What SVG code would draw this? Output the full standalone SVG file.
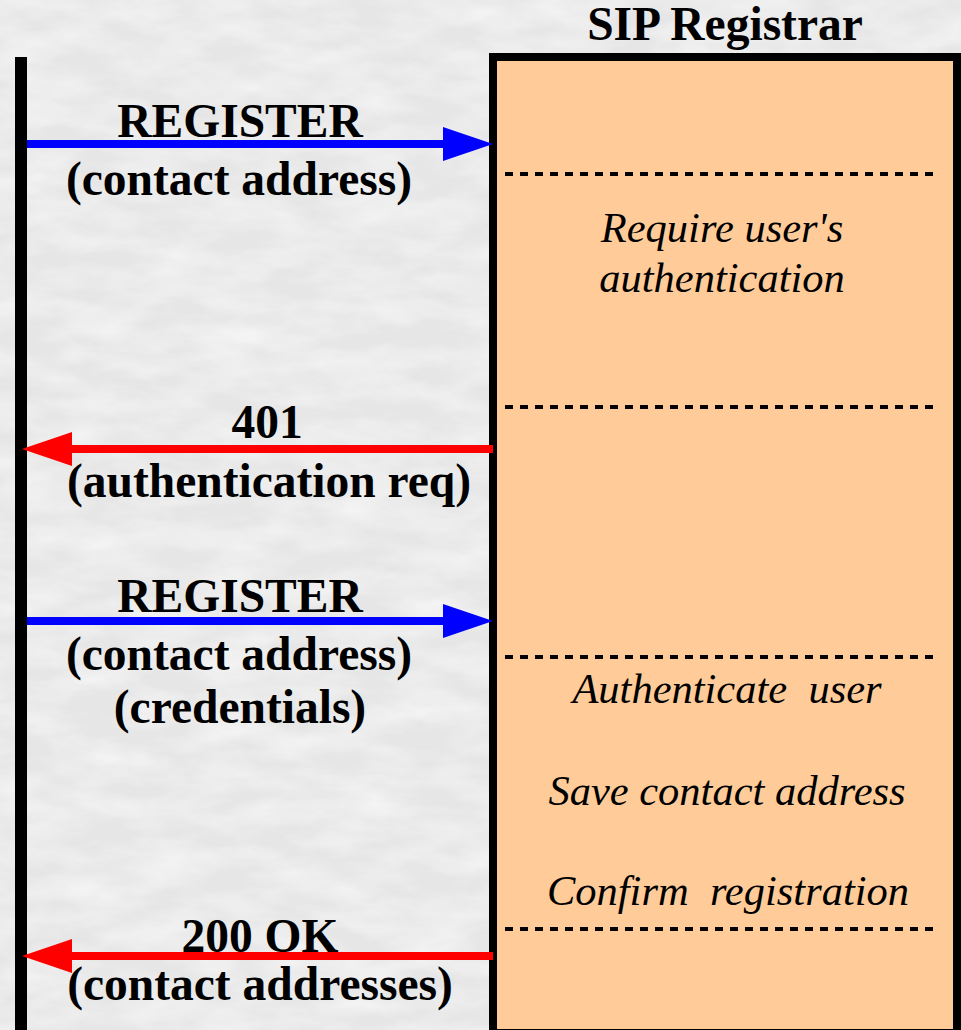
<svg xmlns="http://www.w3.org/2000/svg" width="961" height="1030" viewBox="0 0 961 1030">
  <defs>
    <filter id="marble" x="0" y="0" width="100%" height="100%">
      <feTurbulence type="fractalNoise" baseFrequency="0.015 0.04" numOctaves="4" seed="7" result="n"/>
      <feColorMatrix in="n" type="matrix" values="0 0 0 0 0.97  0 0 0 0 0.97  0 0 0 0 0.97  1.1 0 0 0 -0.35" result="c"/>
      <feComposite in="c" in2="SourceGraphic" operator="over"/>
    </filter>
    <marker id="headBlue" markerUnits="userSpaceOnUse" markerWidth="50" markerHeight="34" refX="0" refY="17" orient="auto">
      <path d="M0,0 L50,17 L0,34 Z" fill="#0000FF"/>
    </marker>
    <marker id="headRed" markerUnits="userSpaceOnUse" markerWidth="50" markerHeight="34" refX="0" refY="17" orient="auto">
      <path d="M0,0 L50,17 L0,34 Z" fill="#FF0000"/>
    </marker>
    <style>
      .bold { font-family: "Liberation Serif", "Times New Roman", serif; font-weight: bold; font-size: 47.5px; fill: #000; text-anchor: middle; }
      .ital { font-family: "Liberation Serif", "Times New Roman", serif; font-style: italic; font-size: 42.5px; fill: #000; text-anchor: middle; }
      .dash { stroke: #000; stroke-width: 4; stroke-dasharray: 8 7; fill: none; }
      .req { stroke: #0000FF; stroke-width: 8; fill: none; marker-end: url(#headBlue); }
      .resp { stroke: #FF0000; stroke-width: 8; fill: none; marker-end: url(#headRed); }
    </style>
  </defs>

  <!-- background -->
  <rect x="0" y="0" width="961" height="1030" fill="#e6e6e6"/>
  <rect x="0" y="0" width="961" height="1030" fill="#e6e6e6" filter="url(#marble)"/>

  <!-- client lifeline -->
  <g id="client">
    <rect x="15" y="57" width="12" height="973" fill="#000"/>
  </g>

  <!-- registrar -->
  <g id="registrar">
    <text class="bold" x="725" y="40">SIP Registrar</text>
    <rect x="493" y="57" width="464" height="976" fill="#FFCC99" stroke="#000" stroke-width="8"/>
    <line class="dash" x1="505" y1="174" x2="940" y2="174"/>
    <line class="dash" x1="505" y1="407" x2="940" y2="407"/>
    <line class="dash" x1="505" y1="657" x2="940" y2="657"/>
    <line class="dash" x1="505" y1="929" x2="940" y2="929"/>
    <text class="ital" x="722" y="242">Require user's</text>
    <text class="ital" x="722" y="292">authentication</text>
    <text class="ital" x="727" y="703" xml:space="preserve">Authenticate  user</text>
    <text class="ital" x="727" y="805">Save contact address</text>
    <text class="ital" x="728" y="905" xml:space="preserve">Confirm  registration</text>
  </g>

  <!-- connectors -->
  <g id="connectors">
    <line class="req" x1="27" y1="144" x2="443" y2="144"/>
    <line class="resp" x1="493" y1="449" x2="72" y2="449"/>
    <line class="req" x1="27" y1="621" x2="443" y2="621"/>
    <line class="resp" x1="493" y1="956" x2="72" y2="956"/>
  </g>

  <!-- message labels -->
  <g id="msg1">
    <text class="bold" x="240" y="137">REGISTER</text>
    <text class="bold" x="239" y="195">(contact address)</text>
  </g>
  <g id="msg2">
    <text class="bold" x="267" y="438">401</text>
    <text class="bold" x="269" y="497">(authentication req)</text>
  </g>
  <g id="msg3">
    <text class="bold" x="240" y="612">REGISTER</text>
    <text class="bold" x="239" y="670">(contact address)</text>
    <text class="bold" x="240" y="723">(credentials)</text>
  </g>
  <g id="msg4">
    <text class="bold" x="260" y="952">200 OK</text>
    <text class="bold" x="260" y="1000">(contact addresses)</text>
  </g>
</svg>
